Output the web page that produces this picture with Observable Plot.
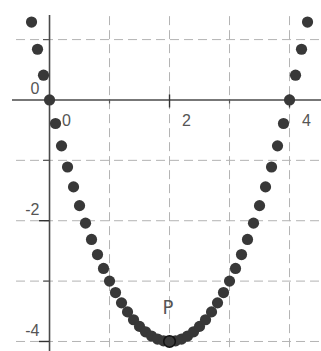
<!DOCTYPE html>
<html>
<head>
<meta charset="utf-8">
<script src="https://cdn.jsdelivr.net/npm/d3@7"></script>
<script src="https://cdn.jsdelivr.net/npm/@observablehq/plot@0.6"></script>
<style>
  html, body { margin: 0; padding: 0; background: #fff; }
  svg { display: block; }
</style>
</head>
<body>
<div id="chart"></div>
<script>
// Points of the dotted curve
const xs = [-0.3, -0.2, -0.1, 0.0, 0.1, 0.2, 0.3, 0.4, 0.5, 0.6, 0.7, 0.8, 0.9, 1.0,
  1.1, 1.2, 1.3, 1.4, 1.5, 1.6, 1.7, 1.8, 1.9, 2.0, 2.1, 2.2, 2.3, 2.4, 2.5, 2.6,
  2.7, 2.8, 2.9, 3.0, 3.1, 3.2, 3.3, 3.4, 3.5, 3.6, 3.7, 3.8, 3.9, 4.0, 4.1, 4.2, 4.3];
const ys = [1.29, 0.84, 0.41, 0.0, -0.39, -0.76, -1.11, -1.44, -1.75, -2.04, -2.31, -2.56, -2.79, -3.0,
  -3.19, -3.36, -3.51, -3.64, -3.75, -3.84, -3.91, -3.96, -3.99, -4.0, -3.99, -3.96, -3.91, -3.84, -3.75, -3.64,
  -3.51, -3.36, -3.19, -3.0, -2.79, -2.56, -2.31, -2.04, -1.75, -1.44, -1.11, -0.76, -0.39, 0.0, 0.41, 0.84, 1.29];

// Special point
const pointP = {x: 2, y: -4, label: "P"};

// Grid and tick values
const xGrid = [1, 2, 3, 4];
const yGrid = [1, -1, -2, -3, -4];
const xMajorTicks = [2, 4];
const xMinorTicks = [1, 3];
const yMajorTicks = [-2, -4];
const yMinorTicks = [1, -1, -3];
const xTickLabels = [0, 2, 4];
const yTickLabels = [0, -2, -4];

const pts = xs.map((x, i) => ({x, y: ys[i]}));

const font = "'Liberation Sans', Arial, sans-serif";
const labelColor = "#555";

const chart = Plot.plot({
  width: 321,
  height: 351,
  marginLeft: 12,
  marginTop: 15,
  marginRight: 0,
  marginBottom: 0,
  style: {fontFamily: font, background: "#fff"},
  x: {domain: [-0.617, 4.533], range: [12, 321], axis: null},
  y: {domain: [-4.166, 1.399], range: [351, 15], axis: null},
  marks: [
    // dashed grid
    Plot.ruleX(xGrid, {stroke: "#b3b3b3", strokeWidth: 1, strokeDasharray: "9,5", y1: 1.38, y2: -4.166}),
    Plot.ruleY(yGrid, {stroke: "#b3b3b3", strokeWidth: 1, strokeDasharray: "9,5", x1: -0.55, x2: 4.533}),
    // axes
    Plot.ruleY([0], {stroke: "#4a4a4a", strokeWidth: 1.6}),
    Plot.ruleX([0], {stroke: "#4a4a4a", strokeWidth: 1.6}),
    // ticks
    Plot.ruleX(xMajorTicks, {y1: 0, y2: 0, insetTop: -5, insetBottom: -8, stroke: "#333", strokeWidth: 1.4}),
    Plot.ruleX(xMinorTicks, {y1: 0, y2: 0, insetTop: 0, insetBottom: -4, stroke: "#555", strokeWidth: 1.2}),
    Plot.ruleY(yMajorTicks, {x1: 0, x2: 0, insetLeft: -10, insetRight: 0, stroke: "#333", strokeWidth: 1.4}),
    Plot.ruleY(yMinorTicks, {x1: 0, x2: 0, insetLeft: -6, insetRight: 0, stroke: "#555", strokeWidth: 1.2}),
    // tick labels
    Plot.text(xTickLabels, {x: d => d, y: 0, text: d => String(d), dx: 17, dy: 21,
      fontSize: 16, fill: labelColor, textAnchor: "middle"}),
    Plot.text(yTickLabels, {x: 0, y: d => d, text: d => String(d), dx: -10, dy: -11,
      fontSize: 16, fill: labelColor, textAnchor: "end"}),
    // dotted curve
    Plot.dot(pts, {x: "x", y: "y", r: 5.6, fill: "#383838", stroke: "none"}),
    // point P
    Plot.dot([pointP], {x: "x", y: "y", r: 5.8, fill: "#3a3a3a", stroke: "#111", strokeWidth: 1.5}),
    Plot.text([pointP], {x: "x", y: "y", text: "label", dx: -1.5, dy: -34,
      fontSize: 20, fill: labelColor, textAnchor: "middle",
      fontFamily: "'Liberation Sans Narrow', 'DejaVu Sans Condensed', 'Liberation Sans', sans-serif"})
  ]
});

document.getElementById("chart").appendChild(chart);
</script>
</body>
</html>
